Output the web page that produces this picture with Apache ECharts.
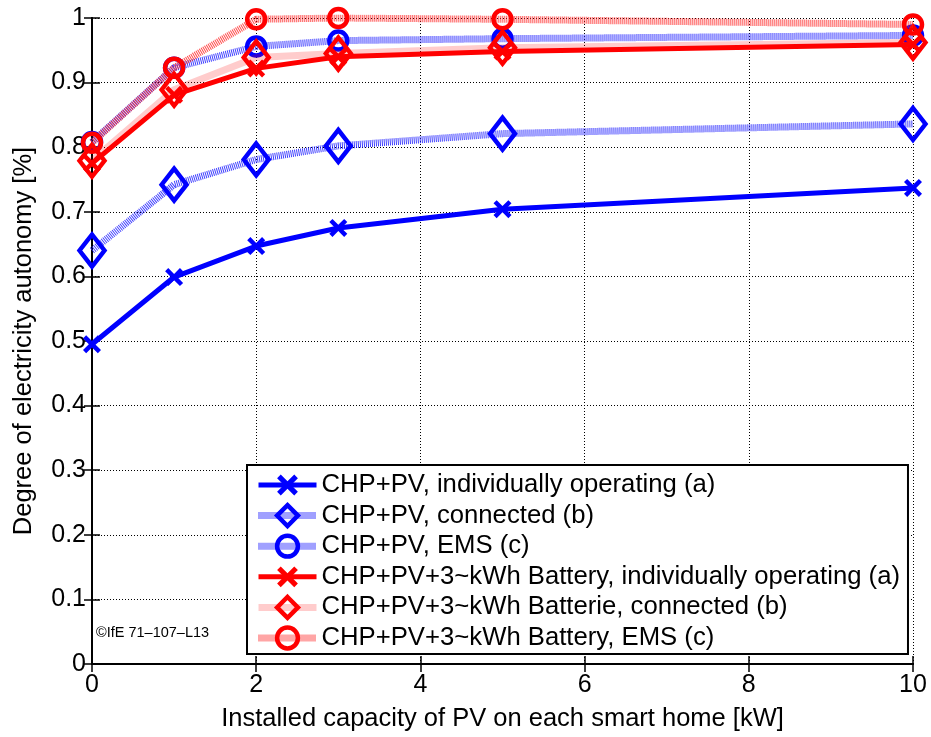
<!DOCTYPE html>
<html>
<head>
<meta charset="utf-8">
<script src="https://cdn.jsdelivr.net/npm/echarts@6/dist/echarts.min.js"></script>
<style>html,body{margin:0;padding:0;background:#fff}#c{width:931px;height:737px}</style>
</head>
<body>
<div id="c"></div>
<script>
const pvCapacity = [0, 1, 2, 3, 5, 10];
const seriesNames = [
  'CHP+PV, individually operating (a)',
  'CHP+PV, connected (b)',
  'CHP+PV, EMS (c)',
  'CHP+PV+3~kWh Battery, individually operating (a)',
  'CHP+PV+3~kWh Batterie, connected (b)',
  'CHP+PV+3~kWh Battery, EMS (c)'
];
const pvIndividual = [0.495, 0.599, 0.647, 0.675, 0.704, 0.737];
const pvConnected = [0.640, 0.742, 0.781, 0.802, 0.821, 0.836];
const pvEMS = [0.808, 0.923, 0.956, 0.965, 0.968, 0.973];
const batIndividual = [0.775, 0.881, 0.922, 0.940, 0.948, 0.959];
const batConnected = [0.779, 0.889, 0.939, 0.945, 0.954, 0.962];
const batEMS = [0.807, 0.923, 0.998, 1.000, 0.998, 0.990];
const xTicks = [0, 2, 4, 6, 8, 10];
const yTicks = [0, 0.1, 0.2, 0.3, 0.4, 0.5, 0.6, 0.7, 0.8, 0.9, 1];

const XSYM = 'path://M0,3.5 L3.5,0 L10,6.5 L16.5,0 L20,3.5 L13.5,10 L20,16.5 L16.5,20 L10,13.5 L3.5,20 L0,16.5 L6.5,10 Z';
const pair = a => pvCapacity.map((x, i) => [x, a[i]]);
const font = 'Liberation Sans, Arial, Helvetica, sans-serif';

function mk(name, data, color, lineColor, width, type, symbol, size, z) {
  const isX = symbol === XSYM;
  return {
    name, type: 'line', data: pair(data), z,
    symbol, symbolSize: size,
    showSymbol: true,
    lineStyle: { color: lineColor, width, type },
    itemStyle: isX
      ? { color: color, borderWidth: 0 }
      : { color: 'rgba(255,255,255,0)', borderColor: color, borderWidth: 4.5 },
    emphasis: { disabled: true },
    animation: false
  };
}

const axisCommon = {
  axisLine: { show: true, lineStyle: { color: '#000', width: 2 } },
  axisTick: { show: true, inside: true, length: 8, lineStyle: { color: '#000', width: 1.5 } }
};

const chart = echarts.init(document.getElementById('c'), null, { renderer: 'canvas' });
chart.setOption({
  backgroundColor: '#fff',
  animation: false,
  textStyle: { fontFamily: font },
  grid: { left: 92, right: 18, top: 18, bottom: 73, show: false },
  xAxis: [Object.assign({
    type: 'value', min: 0, max: 10, interval: 2,
    name: 'Installed capacity of PV on each smart home [kW]',
    nameLocation: 'middle', nameGap: 42,
    nameTextStyle: { fontSize: 25.5, color: '#000', fontFamily: font },
    axisLabel: { fontSize: 25, color: '#000', margin: 9, fontFamily: font,
      formatter: v => xTicks.includes(v) ? String(v) : '' },
    splitLine: { show: true, lineStyle: { color: '#000', type: [1, 2], width: 1 } }
  }, axisCommon), Object.assign({
    type: 'value', min: 0, max: 10, interval: 2, position: 'top',
    axisLabel: { show: false }, splitLine: { show: false }
  }, axisCommon)],
  yAxis: [Object.assign({
    type: 'value', min: 0, max: 1, interval: 0.1,
    name: 'Degree of electricity autonomy [%]',
    nameLocation: 'middle', nameGap: 55,
    nameTextStyle: { fontSize: 25.5, color: '#000', fontFamily: font },
    axisLabel: { fontSize: 25, color: '#000', margin: 6, fontFamily: font,
      formatter: v => {
        const t = yTicks.find(k => Math.abs(k - v) < 1e-9);
        if (t === undefined) return '';
        return (t === 0 || t === 1) ? String(t) : t.toFixed(1);
      } },
    splitLine: { show: true, lineStyle: { color: '#000', type: [1, 2], width: 1 } }
  }, axisCommon), Object.assign({
    type: 'value', min: 0, max: 1, interval: 0.1, position: 'right',
    axisLabel: { show: false }, splitLine: { show: false }
  }, axisCommon)],
  legend: {
    orient: 'vertical', left: 247, top: 465,
    backgroundColor: '#fff', borderColor: '#000', borderWidth: 2,
    padding: [7, 8, 3, 8],
    itemWidth: 58, itemHeight: 26, itemGap: 4.6,
    lineStyle: { width: 'inherit' },
    itemStyle: { borderWidth: 'inherit' },
    textStyle: { fontSize: 25.7, lineHeight: 26, color: '#000', fontFamily: font },
    data: seriesNames
  },
  graphic: [{
    type: 'text', left: 96, top: 625,
    style: { text: '©IfE 71–107–L13', fontSize: 14.5, fill: '#000', fontFamily: font }
  }],
  series: [
    mk(seriesNames[0], pvIndividual, '#0000ff', '#0000ff', 5, 'solid', XSYM, 18, 2),
    mk(seriesNames[1], pvConnected, '#0000ff', 'rgba(30,30,255,0.85)', 7, [1, 1], 'diamond', [25, 32], 3),
    mk(seriesNames[2], pvEMS, '#0000ff', 'rgba(30,30,255,0.85)', 7, [1, 1], 'circle', 18, 4),
    mk(seriesNames[3], batIndividual, '#ff0000', '#ff0000', 5, 'solid', XSYM, 18, 5),
    mk(seriesNames[4], batConnected, '#ff0000', 'rgba(255,0,0,0.2)', 7, 'solid', 'diamond', [25, 32], 6),
    mk(seriesNames[5], batEMS, '#ff0000', 'rgba(255,30,30,0.8)', 7, [1, 1], 'circle', 18, 7)
  ]
});
</script>
</body>
</html>
